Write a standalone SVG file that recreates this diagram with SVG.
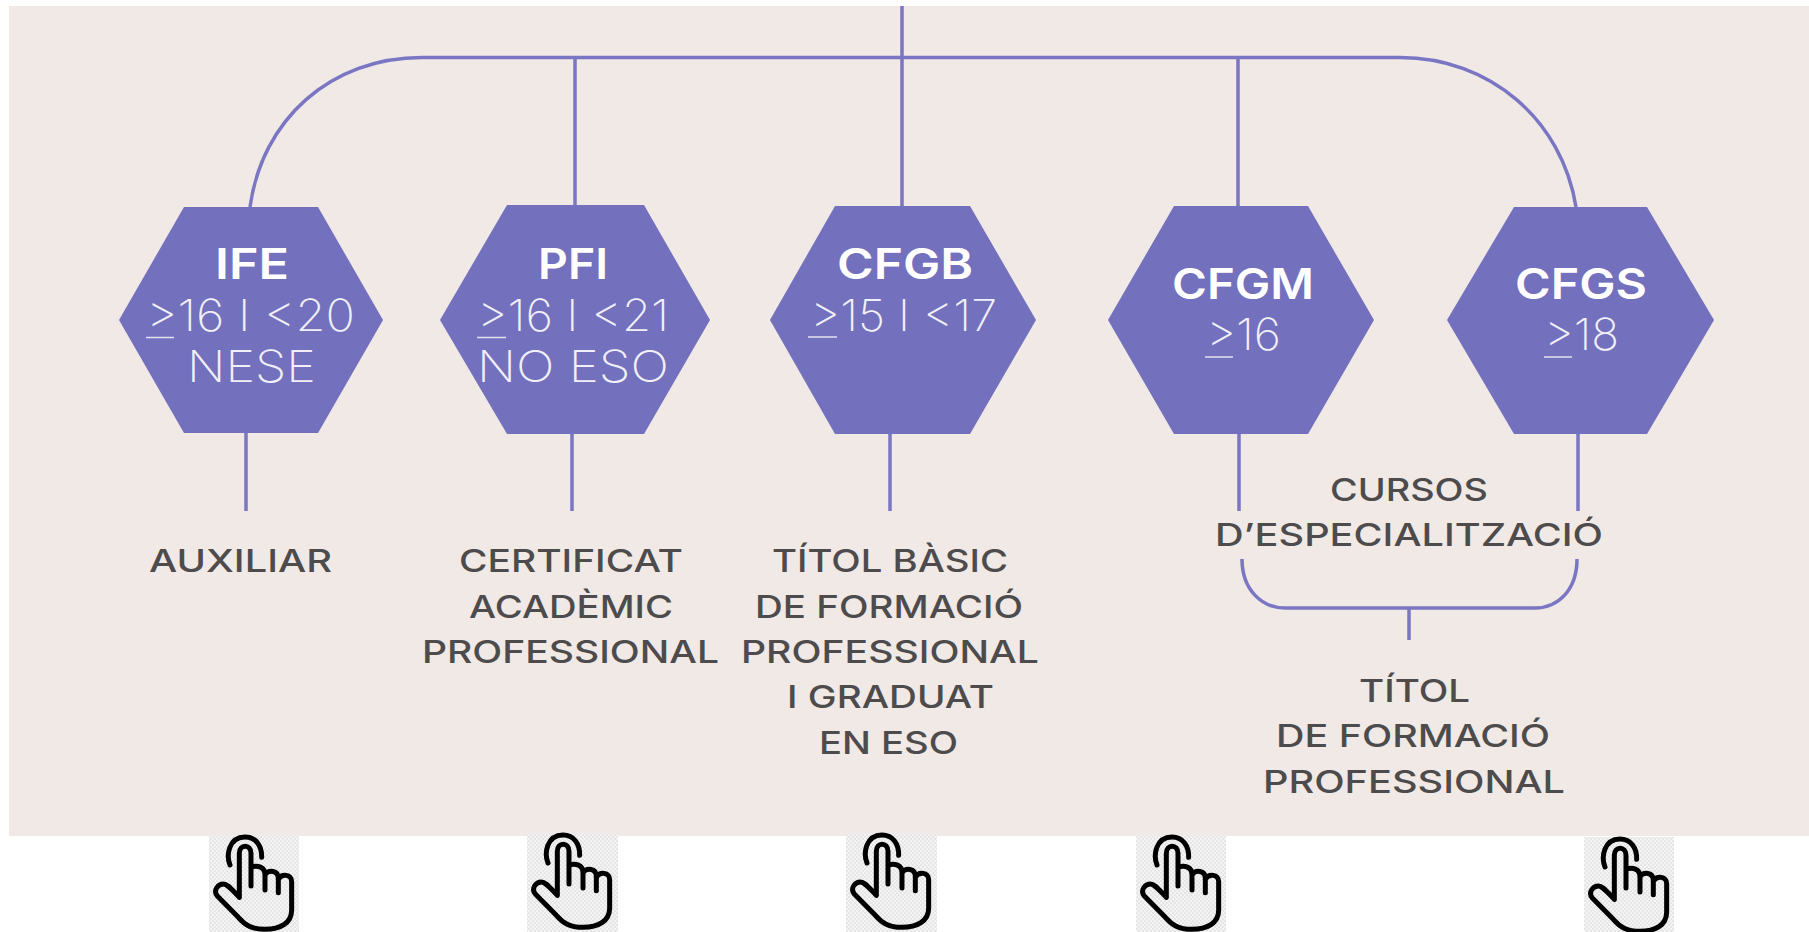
<svg xmlns="http://www.w3.org/2000/svg" xmlns:xlink="http://www.w3.org/1999/xlink" width="1809" height="932" viewBox="0 0 1809 932">
<style>
.bg{fill:#f0e9e5}
.hex{fill:#7370bd}
.ln{fill:none;stroke:#7a76c4;stroke-width:3.5}
.ul{stroke:#e4e2f2;stroke-width:1.5}
text{font-family:"Inter","Liberation Sans",sans-serif}
.t{fill:#fff;font-size:42px;font-weight:600}
.s{fill:#f1f0f8;font-size:44px;font-weight:200}
.l{fill:#4d4b4c;font-size:31px;font-weight:500}
.hand{fill:none;stroke:#000;stroke-width:15;stroke-linecap:round;stroke-linejoin:round}
</style>
<defs>
<pattern id="chk" width="4" height="4" patternUnits="userSpaceOnUse"><rect width="4" height="4" fill="#f3f3f3"/><rect width="2" height="2" fill="#e6e6e6"/><rect x="2" y="2" width="2" height="2" fill="#e6e6e6"/></pattern>
<g id="handIcon"><g transform="scale(.3333) translate(-87,-75)">
<path class="hand" d="M150 165C138 135 146 82 195 81C228 81 246 108 245 142"/>
<path class="hand" d="M178 262V130C178 102 213 102 213 130V228M213 172C232 165 255 170 255 195V240M255 195C265 178 295 180 295 205V248M295 208C305 190 335 192 335 215V300C335 340 300 358 255 358C215 358 195 345 175 322L112 258C98 240 115 222 130 222C142 222 152 235 178 262"/>
</g></g>
</defs>
<rect id="panel" class="bg" x="9" y="6" width="1800" height="830"/>
<g id="connectors">
<path class="ln" d="M250 207C262 120 330 57.500 422 57.500H1400C1490 57.500 1562 120 1576 207"/>
<path class="ln" d="M575 57.500V206M902 6V207M1238 57.500V207M246 432V511M572 433V511M890 433V511M1239 433V511M1578 433V511"/>
<path class="ln" d="M1242 559C1242 590 1262 608 1285 608H1535C1558 608 1577 590 1577 559M1409 608V640"/>
</g>
<g id="node-ife">
<polygon class="hex" points="119,320 184,207 318,207 383,320 318,433 184,433"/>
<text class="t" x="215" y="279" textLength="74" lengthAdjust="spacingAndGlyphs">IFE</text>
<text class="s" x="146" y="331" textLength="209" lengthAdjust="spacingAndGlyphs">&gt;16 I &lt;20</text>
<line class="ul" x1="146" y1="337.500" x2="174" y2="337.500"/>
<text class="s" x="187" y="382" textLength="129" lengthAdjust="spacingAndGlyphs">NESE</text>
</g>
<g id="node-pfi">
<polygon class="hex" points="440,320 507,205 644,205 710,320 644,434 507,434"/>
<text class="t" x="538" y="279" textLength="70" lengthAdjust="spacingAndGlyphs">PFI</text>
<text class="s" x="477" y="331" textLength="192" lengthAdjust="spacingAndGlyphs">&gt;16 I &lt;21</text>
<line class="ul" x1="477" y1="337.500" x2="506" y2="337.500"/>
<text class="s" x="477" y="382" textLength="192" lengthAdjust="spacingAndGlyphs">NO ESO</text>
</g>
<g id="node-cfgb">
<polygon class="hex" points="770,320 835,206 970,206 1036,320 970,434 835,434"/>
<text class="t" x="837" y="279" textLength="136" lengthAdjust="spacingAndGlyphs">CFGB</text>
<text class="s" x="810" y="331" textLength="187" lengthAdjust="spacingAndGlyphs">&gt;15 I &lt;17</text>
<line class="ul" x1="808" y1="337" x2="837" y2="337"/>
</g>
<g id="node-cfgm">
<polygon class="hex" points="1108,320 1174,206 1308,206 1374,320 1308,434 1174,434"/>
<text class="t" x="1172" y="299" textLength="142" lengthAdjust="spacingAndGlyphs">CFGM</text>
<text class="s" x="1206" y="350" textLength="75" lengthAdjust="spacingAndGlyphs">&gt;16</text>
<line class="ul" x1="1205" y1="357" x2="1233" y2="357"/>
</g>
<g id="node-cfgs">
<polygon class="hex" points="1447,320 1514,207 1647,207 1714,320 1647,434 1514,434"/>
<text class="t" x="1515" y="299" textLength="132" lengthAdjust="spacingAndGlyphs">CFGS</text>
<text class="s" x="1544" y="350" textLength="75" lengthAdjust="spacingAndGlyphs">&gt;18</text>
<line class="ul" x1="1544" y1="357" x2="1572" y2="357"/>
</g>
<g id="label-auxiliar"><text class="l" x="149" y="572" textLength="183" lengthAdjust="spacingAndGlyphs">AUXILIAR</text></g>
<g id="label-certificat">
<text class="l" x="459" y="572" textLength="224" lengthAdjust="spacingAndGlyphs">CERTIFICAT</text>
<text class="l" x="469" y="618" textLength="204" lengthAdjust="spacingAndGlyphs">ACADÈMIC</text>
<text class="l" x="422" y="663" textLength="297" lengthAdjust="spacingAndGlyphs">PROFESSIONAL</text>
</g>
<g id="label-titol-basic">
<text class="l" x="772" y="572" textLength="236" lengthAdjust="spacingAndGlyphs">TÍTOL BÀSIC</text>
<text class="l" x="755" y="618" textLength="268" lengthAdjust="spacingAndGlyphs">DE FORMACIÓ</text>
<text class="l" x="741" y="663" textLength="298" lengthAdjust="spacingAndGlyphs">PROFESSIONAL</text>
<text class="l" x="787" y="708" textLength="207" lengthAdjust="spacingAndGlyphs">I GRADUAT</text>
<text class="l" x="819" y="754" textLength="139" lengthAdjust="spacingAndGlyphs">EN ESO</text>
</g>
<g id="label-cursos">
<text class="l" x="1330" y="501" textLength="158" lengthAdjust="spacingAndGlyphs">CURSOS</text>
<text class="l" x="1215" y="546" textLength="388" lengthAdjust="spacingAndGlyphs">D’ESPECIALITZACIÓ</text>
</g>
<g id="label-titol-fp">
<text class="l" x="1359" y="702" textLength="111" lengthAdjust="spacingAndGlyphs">TÍTOL</text>
<text class="l" x="1276" y="747" textLength="274" lengthAdjust="spacingAndGlyphs">DE FORMACIÓ</text>
<text class="l" x="1263" y="793" textLength="302" lengthAdjust="spacingAndGlyphs">PROFESSIONAL</text>
</g>
<g id="hand-1"><rect x="209" y="835" width="90" height="97" fill="url(#chk)"/><use xlink:href="#handIcon" href="#handIcon" x="209" y="835"/></g>
<g id="hand-2"><rect x="527" y="833" width="91" height="99" fill="url(#chk)"/><use xlink:href="#handIcon" href="#handIcon" x="527" y="833"/></g>
<g id="hand-3"><rect x="846" y="833" width="91" height="99" fill="url(#chk)"/><use xlink:href="#handIcon" href="#handIcon" x="846" y="833"/></g>
<g id="hand-4"><rect x="1136" y="835" width="90" height="97" fill="url(#chk)"/><use xlink:href="#handIcon" href="#handIcon" x="1136" y="835"/></g>
<g id="hand-5"><rect x="1584" y="837" width="90" height="95" fill="url(#chk)"/><use xlink:href="#handIcon" href="#handIcon" x="1584" y="837"/></g>
</svg>
